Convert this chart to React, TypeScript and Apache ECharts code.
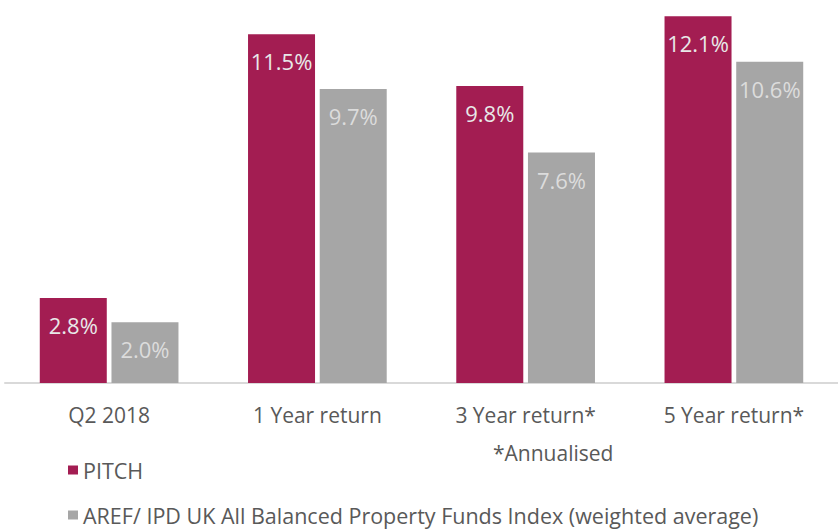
import React, { useEffect, useRef } from "react";
import * as echarts from "echarts";

const categories = ["Q2 2018", "1 Year return", "3 Year return*", "5 Year return*"];
const pitchValues = [2.8, 11.5, 9.8, 12.1];
const arefValues = [2.0, 9.7, 7.6, 10.6];
const seriesNames = ["PITCH", "AREF/ IPD UK All Balanced Property Funds Index (weighted average)"];
const noteText = "*Annualised";

const FONT = "'Open Sans', sans-serif";

export default function App() {
  const ref = useRef<HTMLDivElement>(null);
  useEffect(() => {
    if (!ref.current) return;
    const chart = echarts.init(ref.current, undefined, { renderer: "svg" });
    const label = (color: string) => ({
      show: true,
      position: "insideTop",
      distance: 16,
      color,
      fontFamily: FONT,
      fontSize: 22,
      formatter: (p: any) => p.value.toFixed(1) + "%",
    });
    const legendBase = {
      orient: "horizontal",
      left: 68,
      padding: 0,
      itemWidth: 10,
      itemHeight: 9,
      icon: "rect",
      textStyle: { color: "#595959", fontFamily: FONT, fontSize: 21.5, lineHeight: 22 },
    };
    chart.setOption({
      animation: false,
      backgroundColor: "#ffffff",
      grid: { left: 5, right: -7, top: 1, bottom: 146, containLabel: false },
      xAxis: {
        type: "category",
        data: categories,
        axisLine: { lineStyle: { color: "#d9d9d9", width: 2 } },
        axisTick: { show: false },
        axisLabel: { color: "#595959", fontFamily: FONT, fontSize: 21, margin: 21 },
      },
      yAxis: {
        type: "value",
        min: 0,
        max: 12.6,
        show: false,
        splitLine: { show: false },
      },
      legend: [
        { ...legendBase, top: 459, data: [seriesNames[0]] },
        { ...legendBase, top: 504, data: [seriesNames[1]] },
      ],
      graphic: [
        {
          type: "text",
          left: 493,
          top: 442,
          style: { text: noteText, fill: "#595959", font: `21px ${FONT}` },
        },
      ],
      series: [
        {
          name: seriesNames[0],
          type: "bar",
          data: pitchValues,
          barWidth: 67,
          barGap: "7%",
          itemStyle: { color: "#a31d52" },
          label: label("#e8e8e8"),
        },
        {
          name: seriesNames[1],
          type: "bar",
          data: arefValues,
          barWidth: 67,
          itemStyle: { color: "#a6a6a6" },
          label: label("#dcdcdc"),
        },
      ],
    });
    return () => chart.dispose();
  }, []);
  return (
    <div
      ref={ref}
      style={{ position: "absolute", left: 0, top: 0, width: 838, height: 529 }}
    />
  );
}
